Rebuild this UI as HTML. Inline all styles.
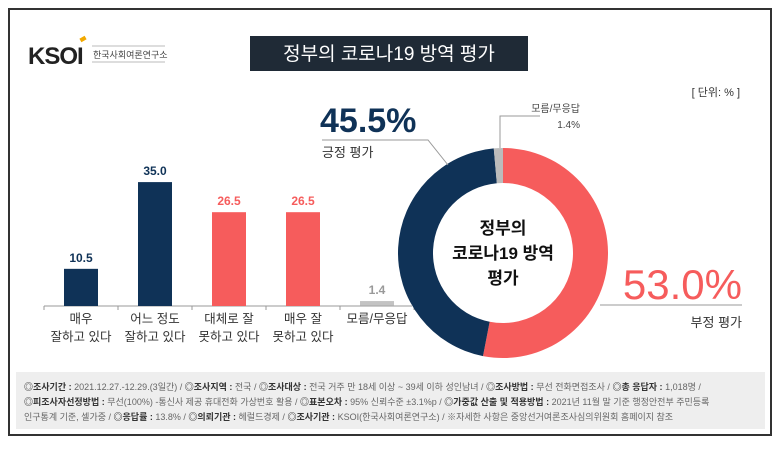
<!DOCTYPE html>
<html><head><meta charset="utf-8">
<style>
body{margin:0;width:780px;height:444px;background:#fff;font-family:"Liberation Sans","Noto Sans CJK KR",sans-serif;overflow:hidden}
svg text{font-family:"Liberation Sans","Noto Sans CJK KR",sans-serif}
</style></head><body>
<svg width="780" height="444">
<rect x="9" y="9" width="762" height="426" fill="#fff" stroke="#333" stroke-width="2"/>
<g>
<text x="28" y="64" font-size="24" font-weight="bold" fill="#222" letter-spacing="-1">KSOI</text>
<rect x="80" y="37" width="6" height="4" fill="#f2a900" transform="rotate(-30 83 39)"/>
<line x1="92" y1="46" x2="165" y2="46" stroke="#bbb"/>
<text x="93" y="58" font-size="9" fill="#444">한국사회여론연구소</text>
<line x1="92" y1="62" x2="165" y2="62" stroke="#bbb"/>
</g>
<rect x="250" y="36" width="278" height="35" fill="#1f2a36"/>
<text x="389" y="60" font-size="19" fill="#fff" text-anchor="middle">정부의 코로나19 방역 평가</text>
<text x="740" y="96" font-size="11" fill="#333" text-anchor="end">[ 단위: % ]</text>
<g id="bars"></g>
<g id="donut"></g>
<text x="320" y="132" font-size="34" font-weight="bold" fill="#0f3257">45.5%</text>
<text x="322" y="157" font-size="13" fill="#333">긍정 평가</text>
<polyline points="322,140 428,140 448,165" fill="none" stroke="#999"/>
<text x="742" y="299" font-size="42" fill="#f65c5c" text-anchor="end">53.0%</text>
<line x1="600" y1="305" x2="742" y2="305" stroke="#999"/>
<text x="742" y="327" font-size="13" fill="#333" text-anchor="end">부정 평가</text>
<polyline points="500,148 500,116 540,116" fill="none" stroke="#999"/>
<text x="580" y="112" font-size="10" fill="#444" text-anchor="end">모름/무응답</text>
<text x="580" y="128" font-size="10" fill="#444" text-anchor="end">1.4%</text>
<g font-size="17" font-weight="bold" fill="#111" text-anchor="middle">
<text x="503" y="234">정부의</text><text x="503" y="259">코로나19 방역</text><text x="503" y="284">평가</text></g>
<rect x="16" y="372" width="749" height="57" fill="#eeeeee"/>
<g font-size="9" fill="#666">
<text x="24" y="390"><tspan font-weight="bold" fill="#333">◎조사기간 :</tspan> 2021.12.27.-12.29.(3일간) / <tspan font-weight="bold" fill="#333">◎조사지역 :</tspan> 전국 / <tspan font-weight="bold" fill="#333">◎조사대상 :</tspan> 전국 거주 만 18세 이상 ~ 39세 이하 성인남녀 / <tspan font-weight="bold" fill="#333">◎조사방법 :</tspan> 무선 전화면접조사 / <tspan font-weight="bold" fill="#333">◎총 응답자 :</tspan> 1,018명 /</text>
<text x="24" y="405"><tspan font-weight="bold" fill="#333">◎피조사자선정방법 :</tspan> 무선(100%) -통신사 제공 휴대전화 가상번호 활용 / <tspan font-weight="bold" fill="#333">◎표본오차 :</tspan> 95% 신뢰수준 ±3.1%p / <tspan font-weight="bold" fill="#333">◎가중값 산출 및 적용방법 :</tspan> 2021년 11월 말 기준 행정안전부 주민등록</text>
<text x="24" y="420">인구통계 기준, 셀가중 / <tspan font-weight="bold" fill="#333">◎응답률 :</tspan> 13.8% / <tspan font-weight="bold" fill="#333">◎의뢰기관 :</tspan> 헤럴드경제 / <tspan font-weight="bold" fill="#333">◎조사기관 :</tspan> KSOI(한국사회여론연구소) / ※자세한 사항은 중앙선거여론조사심의위원회 홈페이지 참조</text>
</g>
</svg>
<script>
const categories=[["매우","잘하고 있다"],["어느 정도","잘하고 있다"],["대체로 잘","못하고 있다"],["매우 잘","못하고 있다"],["모름/무응답"]];
const values=[10.5,35.0,26.5,26.5,1.4];
const barColors=["#0f3257","#0f3257","#f65c5c","#f65c5c","#aaaaaa"];
const donutLabels=["부정 평가","긍정 평가","모름/무응답"];
const donutValues=[53.0,45.5,1.4];
const donutColors=["#f65c5c","#0f3257","#bbbbbb"];
const NS="http://www.w3.org/2000/svg";
function mk(t,a,p){const e=document.createElementNS(NS,t);for(const k in a)e.setAttribute(k,a[k]);p.appendChild(e);return e;}
const base=306,scale=3.54,x0=44,step=74,bw=34;
const xc=i=>x0+step*i+37, yv=v=>base-v*scale;
const bars=document.getElementById('bars');
const ax=mk('line',{x1:x0,y1:base,x2:412,y2:base,stroke:'#999'},bars);


for(let i=0;i<=values.length;i++){const t=mk('line',{x1:x0+step*i,y1:base,x2:x0+step*i,y2:base+4,stroke:'#999'},bars);

}
values.forEach((v,i)=>{
 const last=i===values.length-1;
 const r=mk('rect',{x:xc(i)-bw/2,y:yv(v),width:bw,height:v*scale,fill:barColors[i]},bars);
 if(last){r.setAttribute('fill','#aaa');r.setAttribute('opacity','0.7');}
 
 
 const t=mk('text',{x:xc(i),y:yv(v)-7,'font-size':12,'font-weight':'bold','text-anchor':'middle',fill:last?'#999':barColors[i]},bars);
 t.textContent=v.toFixed(1);
 
 
 categories[i].forEach((ln,j)=>{const c=mk('text',{x:xc(i),y:base+17+j*18,'font-size':12.5,'text-anchor':'middle',fill:'#333'},bars);c.textContent=ln;
 
 });
});
const dn=document.getElementById('donut');
const cx=503,cy=253,R=105,r0=70;
const tot=donutValues.reduce((a,b)=>a+b,0);
let a=0;
function pt(rad,ang){const t=(ang-90)*Math.PI/180;return [cx+rad*Math.cos(t),cy+rad*Math.sin(t)];}
donutValues.forEach((v,i)=>{
 const a2=a+v/tot*360,lg=(a2-a)>180?1:0;
 const p1=pt(R,a),p2=pt(R,a2),p3=pt(r0,a2),p4=pt(r0,a);
 const p=mk('path',{d:`M${p1}A${R},${R} 0 ${lg} 1 ${p2}L${p3}A${r0},${r0} 0 ${lg} 0 ${p4}Z`,fill:donutColors[i]},dn);
 
 
 a=a2;
});
</script>
</body></html>
